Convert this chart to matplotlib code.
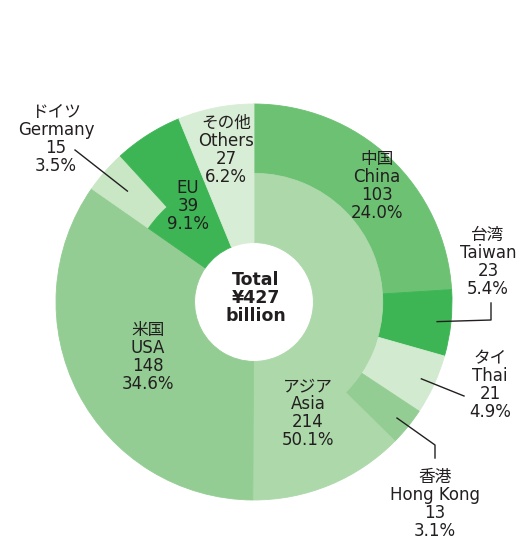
import numpy as np
import matplotlib
matplotlib.use("Agg")
import matplotlib.pyplot as plt

plt.rcParams['font.family'] = ['DejaVu Sans', 'Noto Sans CJK JP']

# inner ring: regions
inner_names = ["アジア\nAsia", "米国\nUSA", "EU", "その他\nOthers"]
inner_values = [214, 148, 39, 27]
inner_pcts = [50.1, 34.6, 9.1, 6.2]
inner_colors = ["#acd8aa", "#93cd93", "#3db555", "#d8edd5"]

# outer ring: countries within each region
outer_names = ["中国\nChina", "台湾\nTaiwan", "タイ\nThai", "香港\nHong Kong", "",
               "", "ドイツ\nGermany", "", ""]
outer_values = [103, 23, 21, 13, None, None, 15, None, None]
outer_pcts = [24.0, 5.4, 4.9, 3.1, 12.7, 34.6, 3.5, 5.6, 6.2]
outer_colors = ["#6cc173", "#3db555", "#d2eacf", "#93cd93", "#acd8aa",
                "#93cd93", "#c9e6c5", "#3db555", "#d8edd5"]

total = 427

fig = plt.figure(figsize=(5.24, 5.41), dpi=100)
ax = fig.add_axes([0, 0, 1, 1])

R_OUT, R_MID, R_HOLE = 1.0, 0.65, 0.30
outer_w, _ = ax.pie(outer_pcts, radius=R_OUT, colors=outer_colors, startangle=90,
                    counterclock=False, wedgeprops=dict(width=R_OUT - R_MID))
inner_w, _ = ax.pie(inner_pcts, radius=R_MID, colors=inner_colors, startangle=90,
                    counterclock=False, wedgeprops=dict(width=R_MID - R_HOLE))
# hide antialiasing seams between neighbouring wedges
for w in outer_w + inner_w:
    w.set_edgecolor(w.get_facecolor())
    w.set_linewidth(0.6)

# pixel layout -> data units (centre at 254,302, radius 198 px)
cx, cy, rpx = 254, 302, 198
ax.set_xlim(-cx / rpx, (524 - cx) / rpx)
ax.set_ylim(-(541 - cy) / rpx, cy / rpx)
ax.set_aspect('auto')
ax.axis('off')


def px(x, y):
    return (x - cx) / rpx, (cy - y) / rpx


def mid_angle(pcts, i):
    start = sum(pcts[:i])
    return np.deg2rad(90 - (start + pcts[i] / 2) * 3.6)


txt = dict(ha='center', va='center', fontsize=12, color='#231f20',
           linespacing=1.0)

# labels inside the rings
inside_pos = {0: (308, 413), 1: (148, 357), 2: (188, 206), 3: (226, 150)}
for i, (x, y) in inside_pos.items():
    lab = "{}\n{}\n{:.1f}%".format(inner_names[i], inner_values[i], inner_pcts[i])
    ax.text(*px(x, y), lab, **txt)

ax.text(*px(377, 186), "{}\n{}\n{:.1f}%".format(outer_names[0], outer_values[0],
                                                outer_pcts[0]), **txt)

# outside labels with leader lines
outside = {
    1: ((488, 262), [(491, 320), (491, 303)]),
    2: ((490, 385), [(464, 396)]),
    3: ((435, 504), [(435, 445), (435, 458)]),
    6: ((56, 139), [(75, 150)]),
}
for i, ((x, y), path) in outside.items():
    lab = "{}\n{}\n{:.1f}%".format(outer_names[i], outer_values[i], outer_pcts[i])
    ax.text(*px(x, y), lab, **txt)
    a = mid_angle(outer_pcts, i)
    r0 = 0.85 if i == 6 else 0.93
    xs = [r0 * np.cos(a)] + [px(p, q)[0] for p, q in path]
    ys = [r0 * np.sin(a)] + [px(p, q)[1] for p, q in path]
    ax.plot(xs, ys, color='#231f20', linewidth=1)

ax.text(*px(256, 298), "Total\n¥{}\nbillion".format(total), ha='center',
        va='center', fontsize=12.5, fontweight='bold', color='#231f20',
        linespacing=1.0)

fig.savefig("out.png", dpi=100)
